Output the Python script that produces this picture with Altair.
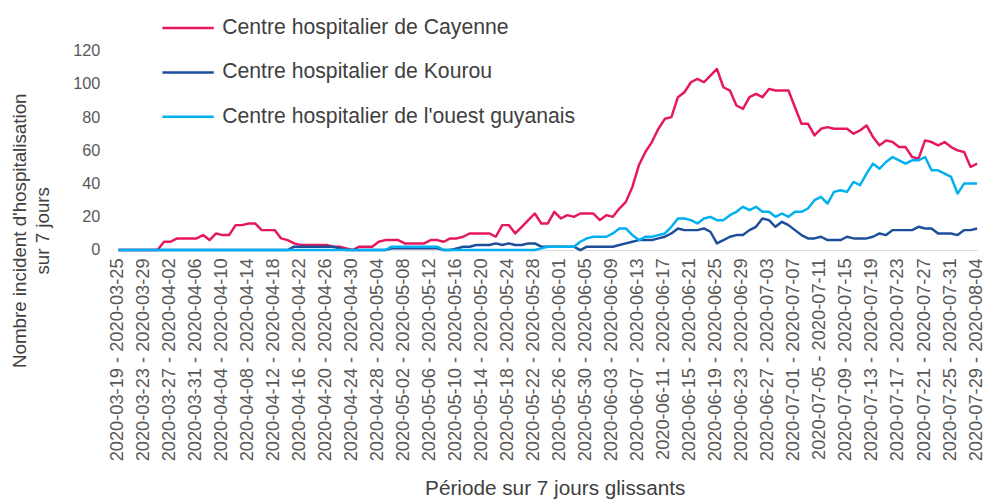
import altair as alt
import pandas as pd

# ---- categories (7-day sliding periods) ----
end_dates = pd.date_range("2020-03-25", "2020-08-04", freq="D")
periods = [
    f"{(d - pd.Timedelta(days=6)).strftime('%Y-%m-%d')} - {d.strftime('%Y-%m-%d')}"
    for d in end_dates
]
tick_labels = periods[::4]

series_names = [
    "Centre hospitalier de Cayenne",
    "Centre hospitalier de Kourou",
    "Centre hospitalier de l'ouest guyanais",
]
colors = ["#E6175C", "#1C4E9A", "#00B0F0"]

# ---- values ----
cayenne = [
    0, 0, 0, 0, 0, 0, 0, 5, 5, 7, 7, 7, 7, 9, 6, 10, 9, 9, 15, 15,
    16, 16, 12, 12, 12, 7, 6, 4, 3, 3, 3, 3, 3, 2, 2, 1, 0, 2, 2, 2,
    5, 6, 6, 6, 4, 4, 4, 4, 6, 6, 5, 7, 7, 8, 10, 10, 10, 10, 8, 15,
    15, 10, 14, 18, 22, 16, 16, 23, 19, 21, 20, 22, 22, 22, 18, 21, 20, 25, 29, 38,
    51, 59, 65, 73, 79, 80, 92, 95, 101, 103, 101, 105, 109, 98, 96, 87, 85, 92, 94, 92,
    97, 96, 96, 96, 86, 76, 76, 69, 73, 74, 73, 73, 73, 70, 72, 75, 68, 63, 66, 65,
    62, 62, 56, 55, 66, 65, 63, 65, 62, 60, 59, 50, 52,
]
kourou = [
    0, 0, 0, 0, 0, 0, 0, 0, 0, 0, 0, 0, 0, 0, 0, 0, 0, 0, 0, 0,
    0, 0, 0, 0, 0, 0, 0, 2, 2, 2, 2, 2, 2, 2, 1, 0, 0, 0, 0, 0,
    0, 0, 1, 1, 1, 1, 1, 1, 1, 1, 0, 0, 1, 2, 2, 3, 3, 3, 4, 3,
    4, 3, 3, 4, 4, 2, 2, 2, 2, 2, 2, 0, 2, 2, 2, 2, 2, 3, 4, 5,
    6, 6, 6, 7, 8, 10, 13, 12, 12, 12, 13, 11, 4, 6, 8, 9, 9, 12, 14, 19,
    18, 14, 17, 15, 12, 9, 7, 7, 8, 6, 6, 6, 8, 7, 7, 7, 8, 10, 9, 12,
    12, 12, 12, 14, 13, 13, 10, 10, 10, 9, 12, 12, 13,
]
ouest = [
    0, 0, 0, 0, 0, 0, 0, 0, 0, 0, 0, 0, 0, 0, 0, 0, 0, 0, 0, 0,
    0, 0, 0, 0, 0, 0, 0, 0, 0, 0, 0, 0, 0, 0, 0, 0, 0, 0, 0, 0,
    0, 0, 2, 2, 2, 2, 2, 2, 2, 2, 0, 0, 0, 0, 0, 0, 0, 0, 0, 0,
    0, 0, 0, 0, 0, 1, 2, 2, 2, 2, 2, 5, 7, 8, 8, 8, 10, 13, 13, 9,
    6, 8, 8, 9, 10, 14, 19, 19, 18, 16, 19, 20, 18, 18, 21, 23, 26, 24, 26, 23,
    23, 20, 22, 20, 23, 23, 25, 30, 32, 28, 35, 36, 35, 41, 39, 46, 52, 49, 53, 56,
    54, 52, 54, 54, 56, 48, 48, 46, 44, 34, 40, 40, 40,
]
y_ticks = [0, 20, 40, 60, 80, 100, 120]

rows = []
for name, vals in zip(series_names, [cayenne, kourou, ouest]):
    for p, v in zip(periods, vals):
        rows.append({"periode": p, "serie": name, "valeur": v})
df = pd.DataFrame(rows)

FONT = "Liberation Sans"

chart = (
    alt.Chart(df)
    .mark_line(strokeWidth=2.5, strokeJoin="round")
    .encode(
        x=alt.X(
            "periode:N",
            sort=periods,
            scale=alt.Scale(type="point", padding=0),
            axis=alt.Axis(
                values=tick_labels,
                title="Période sur 7 jours glissants",
                titleFontSize=21,
                titleFontWeight="normal",
                titleColor="#404040",
                titleX=442,
                titleY=231,
                titleAlign="center",
                titleBaseline="top",
                labelAngle=-90,
                labelAlign="right",
                labelBaseline="middle",
                labelFontSize=18.5,
                labelColor="#595959",
                labelPadding=8,
                labelOffset=-2,
                labelLimit=400,
                labelOverlap=False,
                labelBound=False,
                ticks=False,
                domain=True,
                domainColor="#D9D9D9",
                domainWidth=1,
                grid=False,
            ),
        ),
        y=alt.Y(
            "valeur:Q",
            scale=alt.Scale(domain=[0, 120], nice=False),
            axis=alt.Axis(
                values=y_ticks,
                title=["Nombre incident d'hospitalisation", "sur 7 jours"],
                titleFontSize=19,
                titleFontWeight="normal",
                titleColor="#404040",
                titleAngle=270,
                titleX=-109,
                titleY=182,
                titleAlign="center",
                titleBaseline="top",
                titleLineHeight=23,
                labelFontSize=16.5,
                labelColor="#595959",
                labelPadding=19,
                ticks=False,
                domain=False,
                grid=False,
            ),
        ),
        color=alt.Color(
            "serie:N",
            scale=alt.Scale(domain=series_names, range=colors),
            legend=alt.Legend(
                title=None,
                orient="none",
                legendX=43,
                legendY=-33,
                symbolType="stroke",
                symbolSize=2704,
                symbolStrokeWidth=2.5,
                clipHeight=20,
                rowPadding=23,
                labelOffset=7,
                labelFontSize=21.5,
                labelColor="#404040",
                labelLimit=600,
                padding=0,
            ),
        ),
    )
    .properties(
        width=870,
        height=202,
        autosize=alt.AutoSizeParams(type="none"),
        padding={"left": 112, "top": 40, "right": 8, "bottom": 249},
    )
    .configure(font=FONT)
    .configure_view(stroke=None)
)

chart.save("out.html", embed_options={"renderer": "svg", "actions": False})
